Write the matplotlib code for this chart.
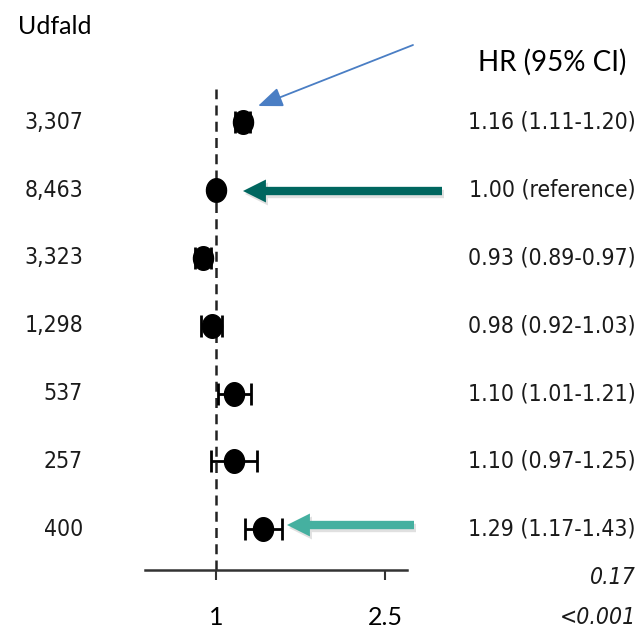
"""Forest plot — HR (95% CI) by group, with highlight arrows."""

import numpy as np
import matplotlib
matplotlib.use("Agg")
import matplotlib.pyplot as plt
from matplotlib.path import Path
from matplotlib.transforms import blended_transform_factory


counts = ["3,307", "8,463", "3,323", "1,298", "537", "257", "400"]
hr = [1.16, 1.00, 0.93, 0.98, 1.10, 1.10, 1.29]
ci_low = [1.11, 1.00, 0.89, 0.92, 1.01, 0.97, 1.17]
ci_high = [1.20, 1.00, 0.97, 1.03, 1.21, 1.25, 1.43]
reference_row = 1
p_values = ["0.17", "<0.001"]
x_ticks = [1, 2.5]
x_tick_labels = ["1", "2.5"]

W, H = 640, 636
NARROW = dict(family="DejaVu Sans", fontstretch="condensed", color="#1a1a1a")
LABEL = ["Lato", "DejaVu Sans"]


def fig_xy(x, y):
    """top-left pixel -> figure fraction"""
    return x / W, 1 - y / H


def hr_label(i):
    if i == reference_row:
        return f"{hr[i]:.2f} (reference)"
    return f"{hr[i]:.2f} ({ci_low[i]:.2f}-{ci_high[i]:.2f})"


fig = plt.figure(figsize=(W / 100, H / 100), dpi=100)
ax = fig.add_axes([145 / W, 1 - 570 / H, 262 / W, 481 / H])

rows = np.arange(len(hr))
theta = np.linspace(0, 2 * np.pi, 40)
oval = Path(np.column_stack([0.85 * np.cos(theta), np.sin(theta)]), closed=True)

err = [np.array(hr) - np.array(ci_low), np.array(ci_high) - np.array(hr)]
ax.errorbar(hr, rows, xerr=err, fmt="none", ecolor="black", elinewidth=2,
            capsize=8, capthick=2, zorder=3)
ax.plot(hr, rows, linestyle="none", marker=oval, markersize=17,
        color="black", zorder=4)
ax.axvline(1, color="#222222", linewidth=1.8, dashes=(4, 2.5), zorder=2)

ax.set_xscale("log")
ax.set_xlim(0.68, 2.815)
ax.set_ylim(len(hr) - 0.4, -0.49)
ax.set_xticks(x_ticks)
ax.set_xticklabels(x_tick_labels, family=LABEL, fontsize=18)
ax.xaxis.set_minor_locator(matplotlib.ticker.NullLocator())
ax.tick_params(axis="x", direction="out", length=7, width=1.5, pad=19, color="#333333")
ax.set_yticks([])
for side in ["top", "left", "right"]:
    ax.spines[side].set_visible(False)
ax.spines["bottom"].set_linewidth(1.8)
ax.spines["bottom"].set_color("#333333")

# text columns
tr = blended_transform_factory(fig.transFigure, ax.transData)
for i in rows:
    ax.text(83 / W, i, counts[i], transform=tr, ha="right", va="center",
            fontsize=16.5, **NARROW)
    ax.text(636 / W, i, hr_label(i), transform=tr, ha="right", va="center",
            fontsize=16.5, **NARROW)

fig.text(*fig_xy(18, 26), "Udfald", ha="left", va="center", family=LABEL, fontsize=18)
fig.text(*fig_xy(626, 62), "HR (95% CI)", ha="right", va="center", family=LABEL, fontsize=20)
fig.text(*fig_xy(636, 577), p_values[0], ha="right", va="center",
         style="italic", fontsize=16.5, **NARROW)
fig.text(*fig_xy(636, 618), p_values[1], ha="right", va="center",
         style="italic", fontsize=16.5, **NARROW)

# highlight arrows
fig.add_artist(matplotlib.patches.FancyArrowPatch(
    fig_xy(413, 45), fig_xy(258, 106), transform=fig.transFigure,
    arrowstyle="-|>,head_length=1.0,head_width=0.4", mutation_scale=15,
    color="#4A7EC4", linewidth=1.3, shrinkA=0, shrinkB=0))

thick = "simple,head_length=1.65,head_width=1.65,tail_width=0.6"
for (x0, x1, y, col) in [(442, 243, 191, "#00665F"), (414, 287, 525, "#45B0A0")]:
    fig.add_artist(matplotlib.patches.FancyArrowPatch(
        fig_xy(x0 + 2, y + 3), fig_xy(x1 + 2, y + 3), transform=fig.transFigure,
        arrowstyle=thick, mutation_scale=10, fc="#bbbbbb", ec="none",
        alpha=0.45, shrinkA=0, shrinkB=0))
    fig.add_artist(matplotlib.patches.FancyArrowPatch(
        fig_xy(x0, y), fig_xy(x1, y), transform=fig.transFigure,
        arrowstyle=thick, mutation_scale=10, fc=col, ec="none",
        shrinkA=0, shrinkB=0))

fig.savefig("out.png", dpi=100)
